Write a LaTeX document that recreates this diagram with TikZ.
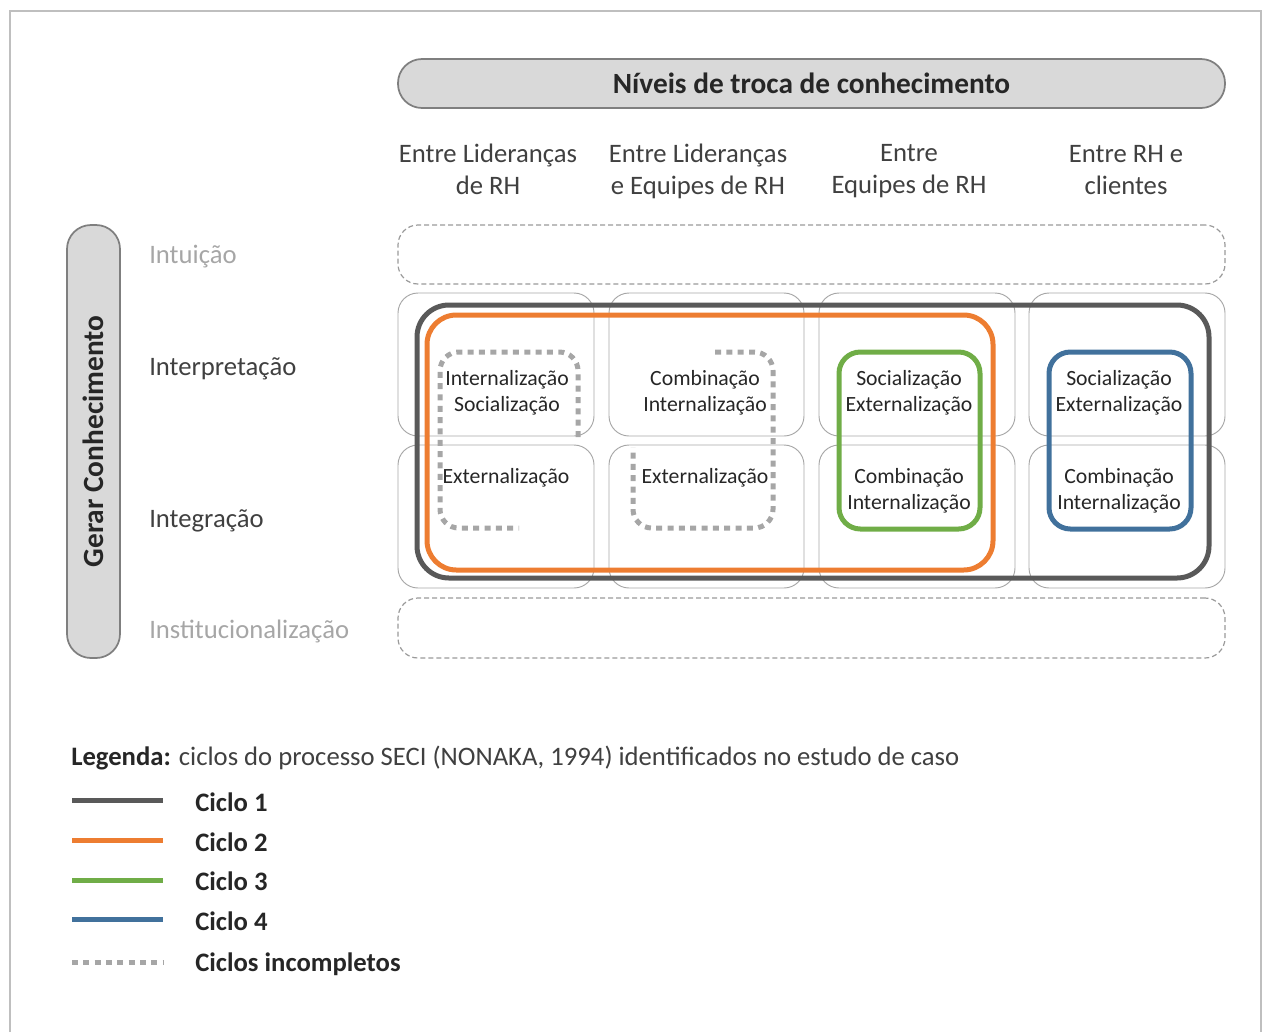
\documentclass[tikz,border=0pt]{standalone}
\usepackage{fontspec}
\setmainfont{Carlito}
\usetikzlibrary{fit}
\definecolor{txt}{HTML}{404040}
\definecolor{ink}{HTML}{262626}
\definecolor{faint}{HTML}{A6A6A6}
\definecolor{cellline}{HTML}{A6A6A6}
\definecolor{dashline}{HTML}{9A9A9A}
\definecolor{pillfill}{HTML}{D9D9D9}
\definecolor{pillline}{HTML}{7F7F7F}
\definecolor{frameline}{HTML}{BFBFBF}
\definecolor{cycA}{HTML}{595959}
\definecolor{cycB}{HTML}{ED7D31}
\definecolor{cycC}{HTML}{70AD47}
\definecolor{cycD}{HTML}{41719C}
\definecolor{dotgray}{HTML}{A6A6A6}
\begin{document}
\begin{tikzpicture}[x=0.75pt,y=-0.75pt,
  pill/.style={draw=pillline, fill=pillfill, line width=1.3pt, rounded corners=18pt, inner sep=0pt},
  cell/.style={draw=cellline, line width=0.7pt, rounded corners=15pt, inner sep=0pt},
  rowbox/.style={draw=dashline, line width=0.9pt, dash pattern=on 3.75pt off 2.25pt, rounded corners=15pt, inner sep=0pt},
  cycone/.style={draw=cycA, line width=3.75pt, rounded corners=24pt},
  cyctwo/.style={draw=cycB, line width=3.75pt, rounded corners=22pt},
  cycthree/.style={draw=cycC, line width=3.75pt, rounded corners=16pt},
  cycfour/.style={draw=cycD, line width=3.75pt, rounded corners=16pt},
  incomplete/.style={draw=dotgray, line width=3.75pt, dash pattern=on 4.5pt off 4pt, rounded corners=14pt},
  legline/.style={line width=3.75pt},
  head/.style={font=\fontsize{20}{24}\selectfont, text=txt, align=center},
  rowlab/.style={font=\fontsize{20}{24}\selectfont, anchor=west, inner sep=0pt},
  seci/.style={font=\fontsize{16.3}{19.5}\selectfont, text=ink, align=center, inner sep=0pt},
  legtxt/.style={font=\fontsize{20}{24}\selectfont\bfseries, text=ink, anchor=west, inner sep=0pt},
]
\useasboundingbox (0,0) rectangle (1262,1032);

% outer frame
\draw[frameline, line width=1.5pt] (9.5,1032) -- (9.5,10.5) -- (1260.5,10.5) -- (1260.5,1032);

% header and side pills
\node[pill, minimum width=620.25pt, minimum height=36.75pt,
      font=\fontsize{22}{26}\selectfont\bfseries, text=ink] (levels) at (811.5,83.5)
      {Níveis de troca de conhecimento};
\node[pill, minimum width=39.75pt, minimum height=324.75pt] (gen) at (93.5,441.5) {};
\node[rotate=90, font=\fontsize{22}{26}\selectfont\bfseries, text=ink] (genlab) at (gen.center)
      {Gerar Conhecimento};

% column headings
\node[head] (h1) at (488,169) {Entre Lideranças\\de RH};
\node[head] (h2) at (698,171) {Entre Lideranças\\e Equipes de RH};
\node[head] (h3) at (909,171) {Entre\\Equipes de RH};
\node[head] (h4) at (1126,170) {Entre RH e\\clientes};

% row headings
\node[rowlab, text=faint] (r0) at (149,257) {Intuição};
\node[rowlab, text=txt] (r1) at (149,369) {Interpretação};
\node[rowlab, text=txt] (r2) at (149,521) {Integração};
\node[rowlab, text=faint] (r3) at (149,631) {Institucionalização};

% empty dashed rows
\node[rowbox, fit={(398,225) (1225,284)}] (intuicao) {};
\node[rowbox, fit={(398,598) (1225,658)}] (instit) {};

% grid of cells
\node[cell, fit={(398,293) (594,436)}] (c11) {};
\node[cell, fit={(609,293) (804,436)}] (c21) {};
\node[cell, fit={(819,293) (1015,436)}] (c31) {};
\node[cell, fit={(1029,293) (1225,436)}] (c41) {};
\node[cell, fit={(398,445) (594,588)}] (c12) {};
\node[cell, fit={(609,445) (804,588)}] (c22) {};
\node[cell, fit={(819,445) (1015,588)}] (c32) {};
\node[cell, fit={(1029,445) (1225,588)}] (c42) {};

% SECI cycles
\draw[cycone] (417,305) rectangle (1209,578);
\draw[cyctwo] (427,315) rectangle (993,570);
\draw[cycthree] (839,352) rectangle (980,529);
\draw[cycfour] (1049,352) rectangle (1191,529);

% incomplete cycles
\draw[incomplete] (578,437) -- (578,352) -- (440,352) -- (440,528) -- (519,528);
\draw[incomplete] (715,352) -- (773,352) -- (773,528) -- (633,528) -- (633,447);

% cell contents
\node[seci] (t11) at (507,393) {Internalização\\Socialização};
\node[seci] (t12) at (506,478) {Externalização};
\node[seci] (t21) at (705,393) {Combinação\\Internalização};
\node[seci] (t22) at (705,478) {Externalização};
\node[seci] (t31) at (909,393) {Socialização\\Externalização};
\node[seci] (t32) at (909,491) {Combinação\\Internalização};
\node[seci] (t41) at (1119,393) {Socialização\\Externalização};
\node[seci] (t42) at (1119,491) {Combinação\\Internalização};

% legend
\node[anchor=west, inner sep=0pt, font=\fontsize{20}{24}\selectfont, text=txt] (legend) at (71,758)
  {\textbf{\color{ink}Legenda:} ciclos do processo SECI (NONAKA, 1994) identificados no estudo de caso};
\coordinate (la1) at (72,800); \coordinate (lb1) at (163,800);
\coordinate (la2) at (72,840); \coordinate (lb2) at (163,840);
\coordinate (la3) at (72,880); \coordinate (lb3) at (163,880);
\coordinate (la4) at (72,919); \coordinate (lb4) at (163,919);
\coordinate (la5) at (72,962); \coordinate (lb5) at (163,962);
\draw[legline, cycA] (la1) -- (lb1);
\draw[legline, cycB] (la2) -- (lb2);
\draw[legline, cycC] (la3) -- (lb3);
\draw[legline, cycD] (la4) -- (lb4);
\draw[legline, dotgray, dash pattern=on 4.5pt off 4pt] (la5) -- (lb5);
\node[legtxt] (k1) at (195,802) {Ciclo 1};
\node[legtxt] (k2) at (195,842) {Ciclo 2};
\node[legtxt] (k3) at (195,881) {Ciclo 3};
\node[legtxt] (k4) at (195,921) {Ciclo 4};
\node[legtxt] (k5) at (195,964) {Ciclos incompletos};
\end{tikzpicture}
\end{document}
